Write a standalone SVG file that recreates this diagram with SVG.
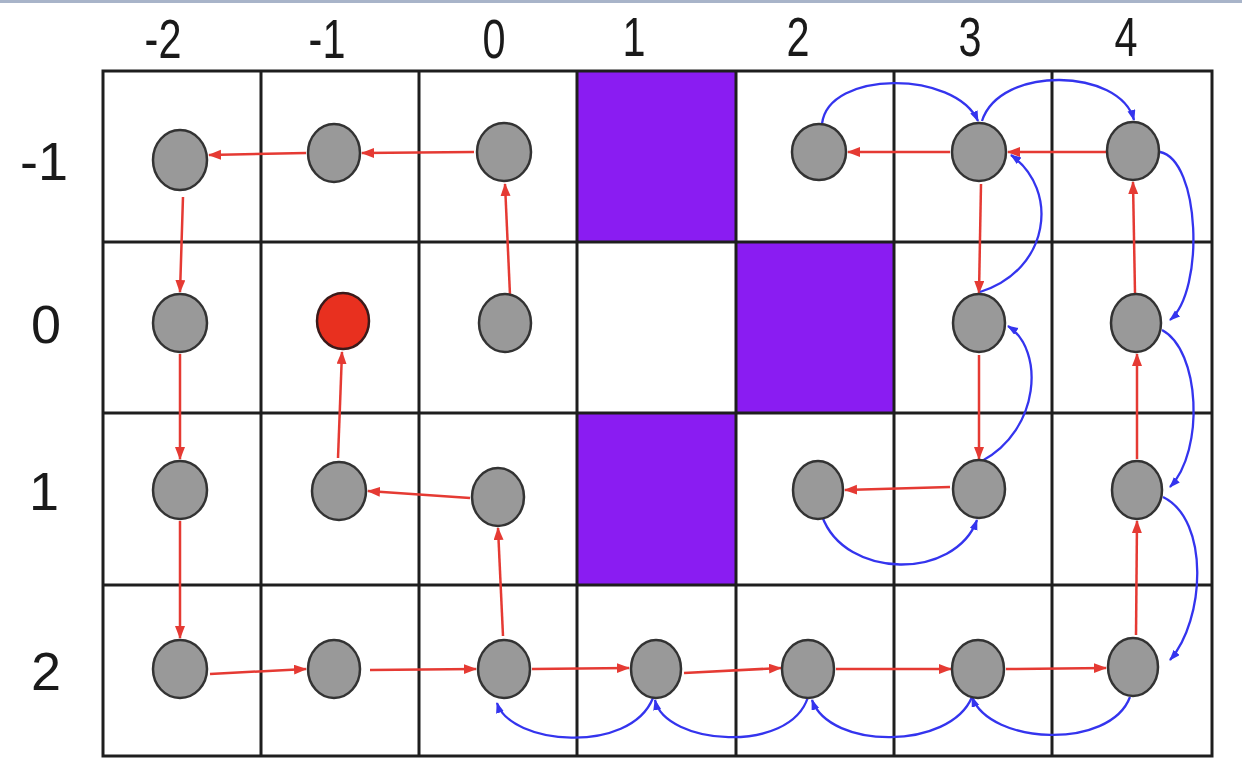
<svg xmlns="http://www.w3.org/2000/svg" width="1242" height="782" viewBox="0 0 1242 782">
<style>
.lbl{font-family:"Liberation Sans",Arial,sans-serif;font-size:54px;fill:#1a1a1a;text-anchor:middle}
.col{font-size:56px}
.grid{stroke:#1e1e1e;stroke-width:3;fill:none}
.wall{fill:#8a1cf2;stroke:#1e1e1e;stroke-width:2}
.node{fill:#999999;stroke:#333333;stroke-width:2.5}
.start{fill:#e8301f;stroke:#3a1a1a;stroke-width:2.5}
.red{stroke:#e53a33;stroke-width:2.5;fill:none;marker-end:url(#ra)}
.blue{stroke:#3434ee;stroke-width:2.3;fill:none;marker-end:url(#ba)}
</style>
<defs>
<marker id="ra" markerUnits="userSpaceOnUse" markerWidth="13" markerHeight="11" refX="12" refY="5" orient="auto"><path d="M0,0 L13,5 L0,10 z" fill="#e53a33"/></marker>
<marker id="ba" markerUnits="userSpaceOnUse" markerWidth="11" markerHeight="9" refX="10" refY="4" orient="auto"><path d="M0,0 L11,4 L0,8 z" fill="#3434ee"/></marker>
</defs>
<rect x="0" y="0" width="1242" height="782" fill="#ffffff"/>
<rect x="0" y="0" width="1242" height="3" fill="#a8b4c9"/>
<g id="labels">
<text class="lbl col" transform="translate(163,58) scale(0.74,1)">-2</text>
<text class="lbl col" transform="translate(327,58) scale(0.74,1)">-1</text>
<text class="lbl col" transform="translate(494,58) scale(0.74,1)">0</text>
<text class="lbl col" transform="translate(634,56) scale(0.74,1)">1</text>
<text class="lbl col" transform="translate(798,56) scale(0.74,1)">2</text>
<text class="lbl col" transform="translate(970,56) scale(0.74,1)">3</text>
<text class="lbl col" transform="translate(1126,56) scale(0.74,1)">4</text>
<text class="lbl" x="44" y="180">-1</text>
<text class="lbl" x="46" y="343">0</text>
<text class="lbl" x="44" y="510">1</text>
<text class="lbl" x="46" y="690">2</text>
</g>
<g id="walls">
<rect class="wall" x="577" y="71" width="159" height="171"/>
<rect class="wall" x="736" y="242" width="158" height="171"/>
<rect class="wall" x="577" y="413" width="159" height="172"/>
</g>
<g id="grid">
<rect class="grid" x="103" y="71" width="1109" height="685"/>
<path class="grid" d="M261,71V756M419,71V756M577,71V756M736,71V756M894,71V756M1052,71V756M103,242H1212M103,413H1212M103,585H1212"/>
</g>
<g id="connectors">
<path class="red" d="M474,152L362,153"/>
<path class="red" d="M306,153L209,155"/>
<path class="red" d="M183,197L180,292"/>
<path class="red" d="M180,354L180,459"/>
<path class="red" d="M180,521L180,638"/>
<path class="red" d="M210,674L306,669"/>
<path class="red" d="M370,670L476,669"/>
<path class="red" d="M503,636L498,528"/>
<path class="red" d="M470,498L368,491"/>
<path class="red" d="M338,458L342,352"/>
<path class="red" d="M510,295L505,184"/>
<path class="red" d="M532,669L629,668"/>
<path class="red" d="M684,673L781,668"/>
<path class="red" d="M836,669L951,669"/>
<path class="red" d="M1006,669L1106,668"/>
<path class="red" d="M1136,635L1137,521"/>
<path class="red" d="M1137,459L1137,354"/>
<path class="red" d="M1135,293L1133,182"/>
<path class="red" d="M1106,152L1008,152"/>
<path class="red" d="M950,152L848,152"/>
<path class="red" d="M981,184L979,293"/>
<path class="red" d="M979,355L979,459"/>
<path class="red" d="M950,487L845,490"/>
<path class="blue" d="M822,124C828,70 955,70 978,121"/>
<path class="blue" d="M982,121C1000,65 1120,68 1134,120"/>
<path class="blue" d="M980,292C1050,270 1060,190 1011,155"/>
<path class="blue" d="M1160,152C1200,160 1205,290 1170,320"/>
<path class="blue" d="M1162,330C1200,350 1205,450 1170,487"/>
<path class="blue" d="M1163,497C1210,520 1205,620 1170,660"/>
<path class="blue" d="M982,461C1040,430 1045,350 1008,326"/>
<path class="blue" d="M822,516C845,580 955,580 977,520"/>
<path class="blue" d="M1130,697C1110,750 990,745 972,697"/>
<path class="blue" d="M972,697C950,750 830,750 812,700"/>
<path class="blue" d="M808,697C790,755 665,745 655,700"/>
<path class="blue" d="M653,698C630,755 510,745 497,703"/>
</g>
<g id="n-2_-1"><ellipse class="node" cx="180" cy="160" rx="27" ry="30"/></g>
<g id="n-1_-1"><ellipse class="node" cx="334" cy="153" rx="26" ry="29"/></g>
<g id="n0_-1"><ellipse class="node" cx="504" cy="152" rx="27" ry="29"/></g>
<g id="n2_-1"><ellipse class="node" cx="819" cy="152" rx="27" ry="28"/></g>
<g id="n3_-1"><ellipse class="node" cx="979" cy="152" rx="27" ry="29"/></g>
<g id="n4_-1"><ellipse class="node" cx="1133" cy="151" rx="26" ry="29"/></g>
<g id="n-2_0"><ellipse class="node" cx="180" cy="323" rx="27" ry="29"/></g>
<g id="n-1_0"><ellipse class="start" cx="343" cy="321" rx="26" ry="28"/></g>
<g id="n0_0"><ellipse class="node" cx="505" cy="323" rx="26" ry="29"/></g>
<g id="n3_0"><ellipse class="node" cx="979" cy="323" rx="26" ry="29"/></g>
<g id="n4_0"><ellipse class="node" cx="1136" cy="323" rx="25" ry="29"/></g>
<g id="n-2_1"><ellipse class="node" cx="180" cy="490" rx="27" ry="29"/></g>
<g id="n-1_1"><ellipse class="node" cx="339" cy="491" rx="27" ry="29"/></g>
<g id="n0_1"><ellipse class="node" cx="498" cy="497" rx="26" ry="29"/></g>
<g id="n2_1"><ellipse class="node" cx="818" cy="490" rx="25" ry="29"/></g>
<g id="n3_1"><ellipse class="node" cx="979" cy="489" rx="26" ry="29"/></g>
<g id="n4_1"><ellipse class="node" cx="1137" cy="490" rx="25" ry="29"/></g>
<g id="n-2_2"><ellipse class="node" cx="180" cy="669" rx="27" ry="29"/></g>
<g id="n-1_2"><ellipse class="node" cx="334" cy="669" rx="26" ry="29"/></g>
<g id="n0_2"><ellipse class="node" cx="504" cy="669" rx="26" ry="29"/></g>
<g id="n1_2"><ellipse class="node" cx="656" cy="669" rx="25" ry="29"/></g>
<g id="n2_2"><ellipse class="node" cx="808" cy="669" rx="26" ry="29"/></g>
<g id="n3_2"><ellipse class="node" cx="978" cy="669" rx="26" ry="29"/></g>
<g id="n4_2"><ellipse class="node" cx="1133" cy="667" rx="25" ry="29"/></g>
</svg>
